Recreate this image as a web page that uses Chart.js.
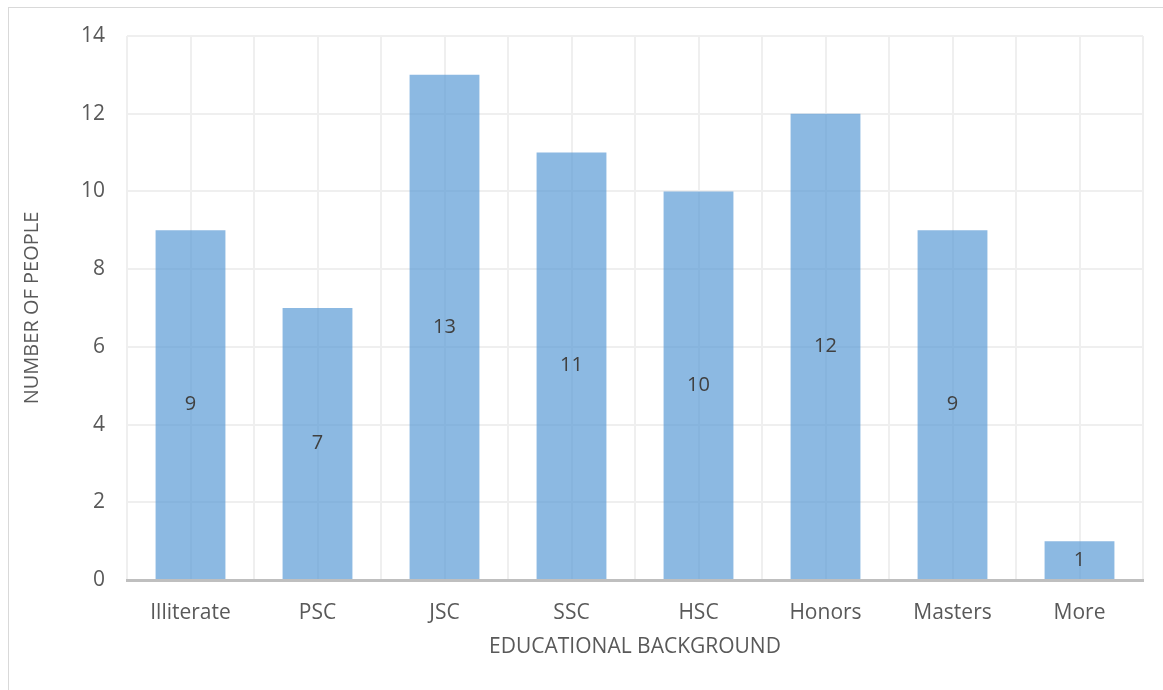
<!DOCTYPE html>
<html>
<head>
<meta charset="utf-8">
<script src="https://cdn.jsdelivr.net/npm/chart.js@4"></script>
<style>
  html, body { margin: 0; padding: 0; background: #fff; }
  #wrap { position: relative; width: 1163px; height: 690px; }
  #frame { position: absolute; left: 8px; top: 7px; right: -2px; bottom: -2px; border: 1px solid #d9d9d9; }
  canvas { position: absolute; left: 0; top: 0; }
</style>
</head>
<body>
<div id="wrap">
  <div id="frame"></div>
  <canvas id="chart" width="1163" height="690"></canvas>
</div>
<script>
const categories = ['Illiterate', 'PSC', 'JSC', 'SSC', 'HSC', 'Honors', 'Masters', 'More'];
const counts = [9, 7, 13, 11, 10, 12, 9, 1];
const yTicks = [0, 2, 4, 6, 8, 10, 12, 14];

const FONT = '"Open Sans", sans-serif';
const gridColor = '#efefef';

// value label in the middle of each bar
const midLabels = {
  id: 'midLabels',
  afterDatasetsDraw(chart) {
    const ctx = chart.ctx;
    const meta = chart.getDatasetMeta(0);
    ctx.save();
    ctx.font = '20px ' + FONT;
    ctx.fillStyle = '#404040';
    ctx.textAlign = 'center';
    ctx.textBaseline = 'middle';
    meta.data.forEach((bar, i) => {
      const y = (bar.y + bar.base) / 2;
      ctx.fillText(String(counts[i]), bar.x, y);
    });
    ctx.restore();
  }
};

new Chart(document.getElementById('chart'), {
  type: 'bar',
  data: {
    labels: categories,
    datasets: [{
      data: counts,
      backgroundColor: 'rgba(91,155,213,0.7)',
      borderWidth: 0,
      barPercentage: 0.55,
      categoryPercentage: 1,
      xAxisID: 'x'
    }]
  },
  options: {
    responsive: false,
    animation: false,
    layout: { padding: { top: 36, right: 20, left: 0, bottom: 30 } },
    plugins: {
      legend: { display: false },
      tooltip: { enabled: false }
    },
    scales: {
      x: {
        type: 'category',
        offset: true,
        grid: { color: gridColor, lineWidth: 2, offset: true, drawTicks: false },
        border: { display: true, color: '#bfbfbf', width: 3 },
        ticks: { color: '#595959', font: { family: FONT, size: 21 }, padding: 20 },
        title: {
          display: true,
          text: 'EDUCATIONAL BACKGROUND',
          color: '#595959',
          font: { family: FONT, size: 21 },
          padding: { top: 4, bottom: 0 }
        },
        afterFit(s) { s.height = 80; }
      },
      xc: {
        type: 'category',
        position: 'bottom',
        offset: true,
        grid: { color: gridColor, lineWidth: 2, offset: false, drawTicks: false },
        border: { display: false },
        ticks: { display: false },
        afterFit(s) { s.height = 0; }
      },
      y: {
        min: 0,
        max: 14,
        afterBuildTicks(s) { s.ticks = yTicks.map(v => ({ value: v })); },
        grid: { color: gridColor, lineWidth: 2, drawTicks: false },
        border: { display: false },
        ticks: { color: '#595959', font: { family: FONT, size: 21 }, padding: 22 },
        title: {
          display: true,
          text: 'NUMBER OF PEOPLE',
          color: '#595959',
          font: { family: FONT, size: 20 },
          padding: { top: 20, bottom: 0 }
        },
        afterFit(s) { s.width = 127; }
      }
    }
  },
  plugins: [midLabels]
});
</script>
</body>
</html>
